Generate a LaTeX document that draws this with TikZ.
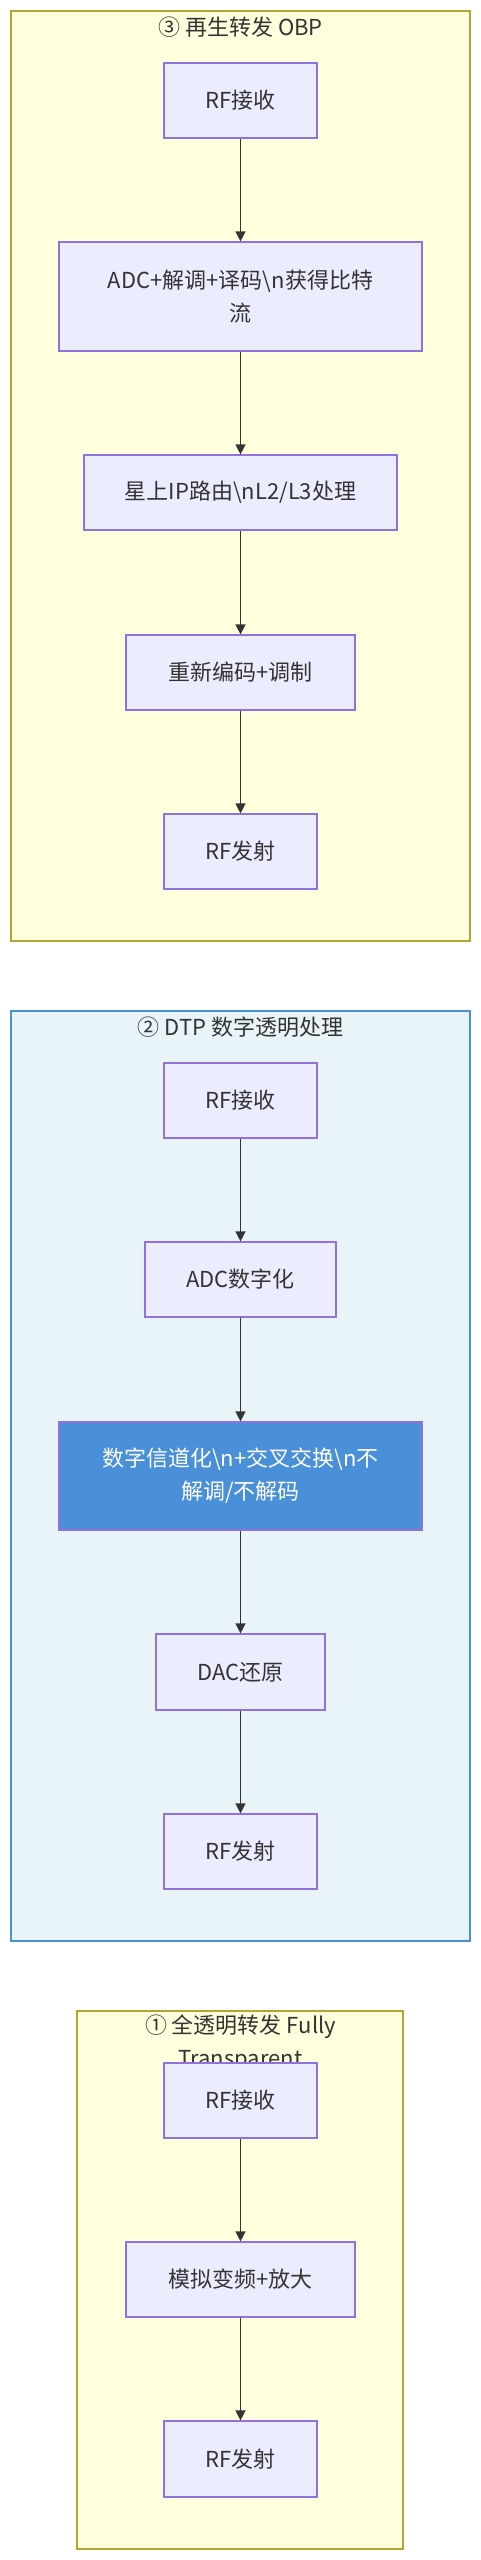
\documentclass[tikz,border=0pt]{standalone}
\usepackage{fontspec}
\setmainfont{Noto Sans CJK SC}
\usepackage{tikz}
\usetikzlibrary{positioning}
\usetikzlibrary{arrows.meta}
\definecolor{boxfill}{HTML}{ECECFF}
\definecolor{boxline}{HTML}{9370DB}
\definecolor{ylwfill}{HTML}{FFFFDE}
\definecolor{ylwline}{HTML}{AAAA33}
\definecolor{dtpfill}{HTML}{E8F4F8}
\definecolor{dtpline}{HTML}{4A90D9}
\definecolor{txt}{HTML}{333333}
\def\nl{\textbackslash n}

\begin{document}
\begin{tikzpicture}[x=1pt, y=-1pt,
    stage/.style={draw=boxline, fill=boxfill, line width=1.2pt, text=txt, align=center, inner sep=0pt, font=\fontsize{22}{33}\selectfont},
    hotstage/.style={stage, fill=dtpline, text=white},
    flow/.style={draw=txt, line width=1.3pt, -{Triangle[length=10pt,width=10pt]}},
    grouptitle/.style={text=txt, align=center, font=\fontsize{22}{33}\selectfont}]

  \useasboundingbox (0,0) rectangle (481,2560);
  \def\cx{240.5};

	%group frames
  \draw[ylwline, fill=ylwfill, line width=1.3pt] (11,11) rectangle (470,941);
  \draw[dtpline, fill=dtpfill, line width=2pt] (11,1011) rectangle (470,1941);
  \draw[ylwline, fill=ylwfill, line width=1.3pt] (77,2011) rectangle (403,2549);

  \node[grouptitle] (T3) at (\cx,27) {③ 再生转发 OBP};
  \node[grouptitle] (T2) at (\cx,1027) {② DTP 数字透明处理};
  \node[grouptitle] (T1) at (\cx,2043.5) {① 全透明转发 Fully\\Transparent};

	%stages
    \foreach \name/\y/\w/\h/\sty/\txt in {A1/100.5/153/75/stage/{RF接收},
        A2/296.5/363/109/stage/{ADC+解调+译码\nl{}获得比特\\流},
        A3/492.5/313/75/stage/{星上IP路由\nl{}L2/L3处理},
        A4/672.5/229/75/stage/{重新编码+调制},
        A5/851.5/153/75/stage/{RF发射},
        B1/1100.5/153/75/stage/{RF接收},
        B2/1279.5/191/75/stage/{ADC数字化},
        B3/1476/363/108/hotstage/{数字信道化\nl{}+交叉交换\nl{}不\\解调/不解码},
        B4/1672/169/76/stage/{DAC还原},
        B5/1851.5/153/75/stage/{RF发射},
        C1/2100.5/153/75/stage/{RF接收},
        C2/2279.5/229/75/stage/{模拟变频+放大},
        C3/2459/153/76/stage/{RF发射}}{
        \node[\sty, minimum width=\w pt, minimum height=\h pt] (\name) at (\cx,\y) {\txt};
    }

	%arrows
    \foreach \a/\b in {A1/A2,A2/A3,A3/A4,A4/A5,B1/B2,B2/B3,B3/B4,B4/B5,C1/C2,C2/C3}{
        \draw[flow] (\a) -- (\b);
    }

\end{tikzpicture}
\end{document}
